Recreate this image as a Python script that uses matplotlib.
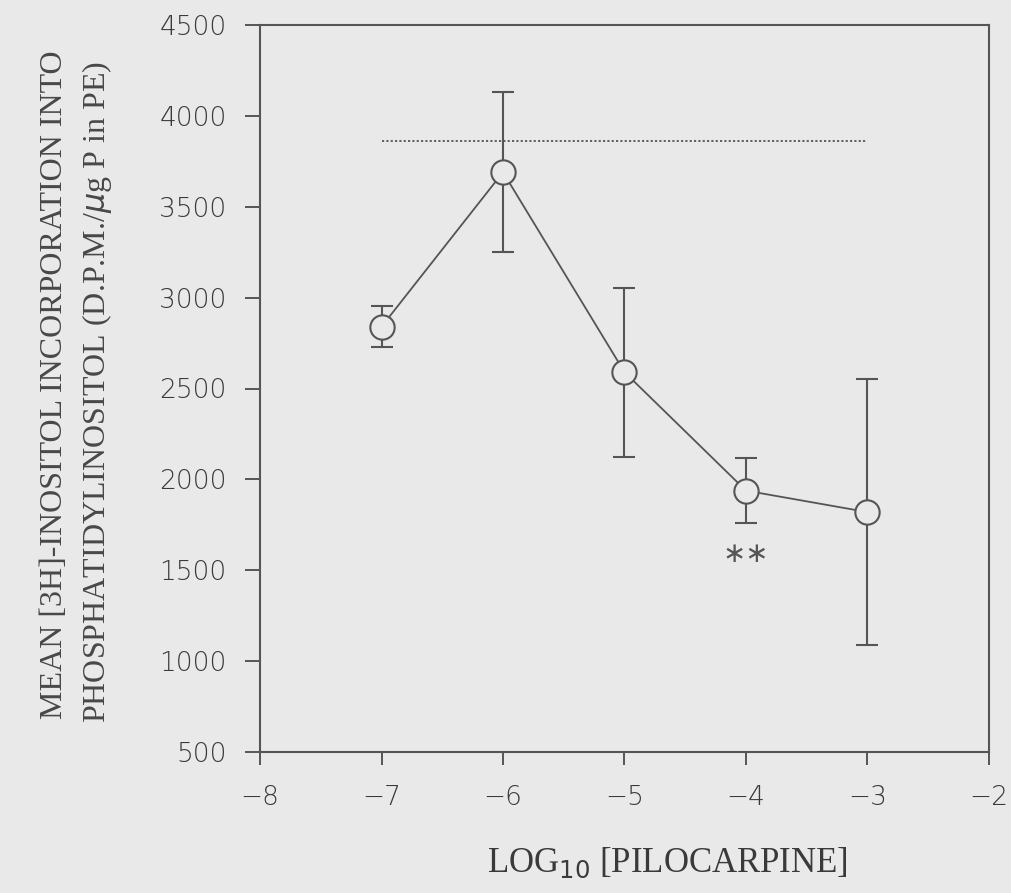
import matplotlib
matplotlib.use("Agg")
import matplotlib.pyplot as plt

log_conc = [-7, -6, -5, -4, -3]
mean_incorp = [2840, 3690, 2590, 1938, 1820]
sem = [113, 440, 465, 180, 733]
control_level = 3860
control_span = [-7, -3]
signif_x = -4
signif_y = 1590
signif_text = "\u2217\u2217"

xticks = [-8, -7, -6, -5, -4, -3, -2]
yticks = [500, 1000, 1500, 2000, 2500, 3000, 3500, 4000, 4500]

bg = "#e9e9e9"
ink = "#555555"

fig = plt.figure(figsize=(10.12, 8.93), dpi=100, facecolor=bg)
ax = fig.add_axes([260/1012, 1-752/893, (989-260)/1012, (752-25)/893])
ax.set_facecolor(bg)

ax.plot(control_span, [control_level, control_level], linestyle=(0, (1.2, 1.2)),
        color=ink, linewidth=1.3)
ax.errorbar(log_conc, mean_incorp, yerr=sem, color=ink, linewidth=1.3,
            elinewidth=1.5, capsize=8, capthick=1.5, marker='o', markersize=17.5,
            markerfacecolor=bg, markeredgecolor=ink, markeredgewidth=1.5, zorder=3)
ax.text(signif_x, signif_y, signif_text, ha='center', va='center',
        fontsize=20, color=ink, family='DejaVu Sans')

ax.set_xlim(-8, -2)
ax.set_ylim(500, 4500)
ax.set_xticks(xticks)
ax.set_yticks(yticks)
ax.set_xticklabels(["\u2212%d" % abs(v) for v in xticks])
for s in ax.spines.values():
    s.set_color(ink)
    s.set_linewidth(1.5)
ax.tick_params(axis='x', direction='out', length=9.5, width=1.4, color=ink,
               labelsize=19, labelcolor='#3a3a3a', pad=14)
ax.tick_params(axis='y', direction='out', length=11, width=1.4, color=ink,
               labelsize=19, labelcolor='#3a3a3a', pad=13)
for lab in ax.get_xticklabels() + ax.get_yticklabels():
    lab.set_family('DejaVu Sans')
    lab.set_fontweight('light')

fig.text(667/1012, 1-872/893, "LOG$_{10}$ [PILOCARPINE]", ha='center', va='baseline',
         family='Liberation Serif', fontsize=25, color='#3a3a3a')
fig.text(55/1012, 1-385/893, "MEAN [3H]-INOSITOL INCORPORATION INTO",
         rotation=90, ha='center', va='center', family='Liberation Serif',
         fontsize=23, color='#484848')
fig.text(97/1012, 1-392/893, "PHOSPHATIDYLINOSITOL (D.P.M./$\\mu$g P in PE)",
         rotation=90, ha='center', va='center', family='Liberation Serif',
         fontsize=23, color='#484848')

fig.savefig("out.png", dpi=100, facecolor=bg)
